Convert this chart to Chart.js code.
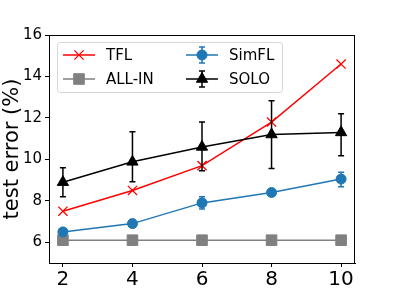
<!DOCTYPE html>
<html><head><meta charset="utf-8">
<script src="https://cdn.jsdelivr.net/npm/chart.js@4/dist/chart.umd.min.js"></script>
<style>html,body{margin:0;padding:0;background:#fff}#wrap{width:394px;height:296px}</style>
</head><body><div id="wrap"><canvas id="c" width="394" height="296"></canvas></div>
<script>
const categories = [2, 4, 6, 8, 10];
const yTicks = [6, 8, 10, 12, 14, 16];
const tfl = [7.5, 8.5, 9.7, 11.8, 14.6];
const allin = [6.1, 6.1, 6.1, 6.1, 6.1];
const simfl = [6.5, 6.9, 7.9, 8.4, 9.05];
const simflLo = [6.45, 6.8, 7.6, 8.3, 8.68];
const simflHi = [6.55, 7.0, 8.2, 8.5, 9.38];
const solo = [8.9, 9.88, 10.6, 11.2, 11.3];
const soloLo = [8.2, 8.92, 9.45, 9.56, 10.18];
const soloHi = [9.6, 11.33, 11.8, 12.83, 12.2];

const FONT = "'DejaVu Sans', sans-serif";
const pts = arr => arr.map((v, i) => ({x: categories[i], y: v}));

const errBars = {
  id: 'errBars',
  beforeDatasetDraw(chart, args) {
    const ds = chart.data.datasets[args.index];
    if (!ds.errLo) return;
    const xs = chart.scales.x, ys = chart.scales.y, ctx = chart.ctx;
    ctx.save();
    ctx.strokeStyle = ds.borderColor; ctx.lineWidth = 1.5;
    categories.forEach((c, i) => {
      const px = xs.getPixelForValue(c);
      const y1 = ys.getPixelForValue(ds.errLo[i]), y2 = ys.getPixelForValue(ds.errHi[i]);
      ctx.beginPath();
      ctx.moveTo(px, y1); ctx.lineTo(px, y2);
      ctx.moveTo(px - 3, y1); ctx.lineTo(px + 3, y1);
      ctx.moveTo(px - 3, y2); ctx.lineTo(px + 3, y2);
      ctx.stroke();
    });
    ctx.restore();
  }
};

const frame = {
  id: 'frame',
  afterDraw(chart) {
    const a = chart.chartArea, ctx = chart.ctx;
    ctx.save();
    ctx.strokeStyle = '#000'; ctx.lineWidth = 1;
    ctx.strokeRect(Math.round(a.left) + 0.5, Math.round(a.top) + 0.5, Math.round(a.right - a.left) - 1, Math.round(a.bottom - a.top));
    // legend
    const bx = 57.5, by = 42.5, bw = 225, bh = 50, r = 3;
    ctx.beginPath();
    ctx.moveTo(bx + r, by); ctx.lineTo(bx + bw - r, by); ctx.arcTo(bx + bw, by, bx + bw, by + r, r);
    ctx.lineTo(bx + bw, by + bh - r); ctx.arcTo(bx + bw, by + bh, bx + bw - r, by + bh, r);
    ctx.lineTo(bx + r, by + bh); ctx.arcTo(bx, by + bh, bx, by + bh - r, r);
    ctx.lineTo(bx, by + r); ctx.arcTo(bx, by, bx + r, by, r); ctx.closePath();
    ctx.fillStyle = 'rgba(255,255,255,0.85)'; ctx.fill();
    ctx.strokeStyle = '#d6d6d6'; ctx.lineWidth = 1; ctx.stroke();
    const items = [
      {ds: 0, x: 63, y: 55}, {ds: 1, x: 63, y: 79},
      {ds: 2, x: 186, y: 55}, {ds: 3, x: 186, y: 79}
    ];
    items.forEach(it => {
      const d = chart.data.datasets[it.ds];
      ctx.strokeStyle = d.borderColor; ctx.lineWidth = 1.5;
      ctx.beginPath(); ctx.moveTo(it.x, it.y); ctx.lineTo(it.x + 32, it.y); ctx.stroke();
      if (d.errLo) {
        ctx.beginPath();
        ctx.moveTo(it.x + 16, it.y - 8); ctx.lineTo(it.x + 16, it.y + 8);
        ctx.moveTo(it.x + 13, it.y - 8); ctx.lineTo(it.x + 19, it.y - 8);
        ctx.moveTo(it.x + 13, it.y + 8); ctx.lineTo(it.x + 19, it.y + 8);
        ctx.stroke();
      }
      Chart.helpers.drawPoint(ctx, {pointStyle: d.pointStyle, rotation: 0, borderWidth: d.pointBorderWidth || 1}, it.x + 16, it.y);
      ctx.fillStyle = d.pointBackgroundColor || d.backgroundColor;
      ctx.strokeStyle = d.borderColor; ctx.lineWidth = d.pointBorderWidth || 1;
      Chart.helpers.drawPoint(ctx, {pointStyle: d.pointStyle, rotation: 0, radius: d.pointRadius, borderWidth: d.pointBorderWidth || 1}, it.x + 16, it.y);
      ctx.fillStyle = '#000';
      ctx.font = '15px ' + FONT;
      ctx.textBaseline = 'middle'; ctx.textAlign = 'left';
      ctx.fillText(d.label, it.x + 43, it.y + 1);
    });
    ctx.restore();
  }
};

new Chart(document.getElementById('c'), {
  type: 'line',
  data: {
    datasets: [
      {label: 'TFL', data: pts(tfl), borderColor: '#ff0000', backgroundColor: '#ff0000', pointStyle: 'crossRot', pointRadius: 6.5, pointBorderWidth: 1.3, borderWidth: 1.5, order: 3},
      {label: 'ALL-IN', data: pts(allin), borderColor: '#808080', backgroundColor: '#808080', pointStyle: 'rect', pointRadius: 7.5, pointBorderWidth: 1, borderWidth: 1.5, order: 2},
      {label: 'SimFL', data: pts(simfl), errLo: simflLo, errHi: simflHi, borderColor: '#1f77b4', backgroundColor: '#1f77b4', pointStyle: 'circle', pointRadius: 5, pointBorderWidth: 1, borderWidth: 1.5, order: 1},
      {label: 'SOLO', data: pts(solo), errLo: soloLo, errHi: soloHi, borderColor: '#000000', backgroundColor: '#000000', pointStyle: 'triangle', pointRadius: 6.5, pointBorderWidth: 1, borderWidth: 1.5, order: 0}
    ]
  },
  options: {
    responsive: false, animation: false, devicePixelRatio: 1,
    layout: {padding: {top: 35, right: 39, left: 0, bottom: 0}},
    elements: {line: {tension: 0}, point: {hoverRadius: 6}},
    plugins: {legend: {display: false}, tooltip: {enabled: false}},
    scales: {
      x: {
        type: 'linear', min: 1.6, max: 10.4,
        afterBuildTicks: s => { s.ticks = categories.map(v => ({value: v})); },
        afterFit: s => { s.height = 33; },
        ticks: {color: '#000', font: {family: FONT, size: 20}, padding: 1, maxRotation: 0},
        grid: {drawOnChartArea: false, drawTicks: true, tickLength: 4, color: '#000', tickColor: '#000'},
        border: {display: true, color: '#000'}
      },
      y: {
        min: 5, max: 16,
        afterBuildTicks: s => { s.ticks = yTicks.map(v => ({value: v})); },
        afterFit: s => { s.width = 49; },
        ticks: {color: '#000', font: {family: FONT, size: 15}, padding: 3},
        grid: {drawOnChartArea: false, drawTicks: true, tickLength: 4, color: '#000', tickColor: '#000'},
        border: {display: true, color: '#000'},
        title: {display: true, text: 'test error (%)', color: '#000', font: {family: FONT, size: 21}, padding: 0}
      }
    }
  },
  plugins: [errBars, frame]
});
</script></body></html>
